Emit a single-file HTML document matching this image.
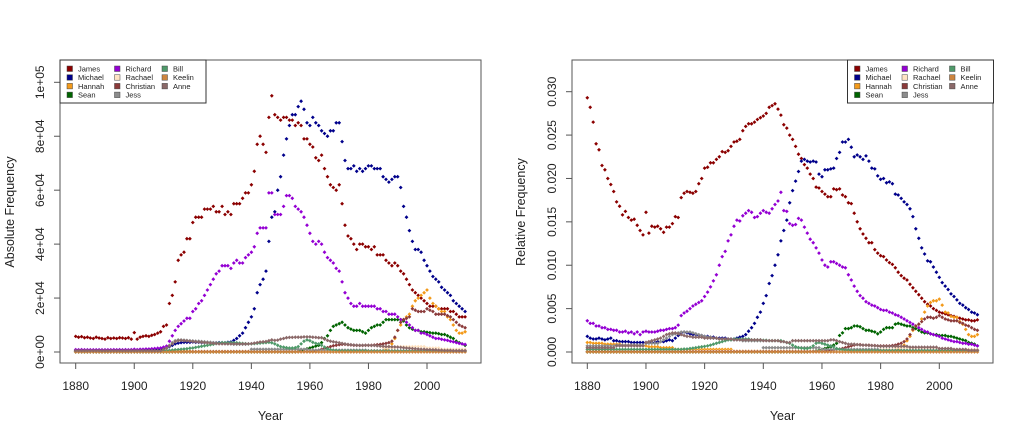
<!DOCTYPE html>
<html><head><meta charset="utf-8"><title>Name frequency charts</title>
<style>
html,body{margin:0;padding:0;background:#fff;}
svg{display:block;font-family:"Liberation Sans",Arial,sans-serif;}
</style></head>
<body>
<svg id="chart" width="1024" height="438" viewBox="0 0 1024 438" xmlns="http://www.w3.org/2000/svg"></svg>
<script>
function rep(v,n){var a=[];for(var i=0;i<n;i++)a.push(v);return a;}
var startYear = 1880, endYear = 2013;
var seriesNames = ["James","Michael","Hannah","Sean","Richard","Rachael","Christian","Jess","Bill","Keelin","Anne"];
var seriesColors = ["#8b0000","#00008b","#f39a1a","#006400","#9400d3","#ffe4c4","#8b3a3a","#8c8c8c","#4f9a6a","#cd853f","#8b6969"];
var absTickLabels = ["0e+00","2e+04","4e+04","6e+04","8e+04","1e+05"];
var absTickValues = [0,20,40,60,80,100];
var relTickLabels = ["0.000","0.005","0.010","0.015","0.020","0.025","0.030"];
var relTickValues = [0,5,10,15,20,25,30];
var xTickValues = [1880,1900,1920,1940,1960,1980,2000];

/* Absolute frequency, in thousands */
var absJames = [5.8,5.5,5.7,5.3,5.5,5.2,5.0,5.5,5.2,5.0, 4.8,5.3,5.0,5.2,5.0,5.3,5.2,5.0,5.3,4.8, 7.2,4.8,5.5,5.8,6.0,5.8,6.2,6.5,7.0,7.5, 9.5,10,18,21,26,34,36,37,42,42, 48,50,50,50,53,53,53,54,52,52, 54,51,52,51,55,55,55,57,59,59, 62,67,77,80,77,74,87,95,88,87, 86,87,87,86,86,84,85,84,79,79, 77,76,72,71,73,68,65,62,61,60, 62,55,47,43,42,40,38,40,40,39, 39,38,39,36,36,36,34,33,32,33, 32,30,29,27,25,23,22,21,20,19, 18,17,17,17,16,16,16,16,15,15, 14,13,13,13];
var absMichael = [0.6,0.5,0.6,0.5,0.6,0.5,0.5,0.6,0.6,0.5, 0.5,0.6,0.6,0.6,0.6,0.6,0.6,0.6,0.6,0.6, 0.7,0.6,0.7,0.7,0.7,0.8,0.8,0.9,1.0,1.0, 1.2,1.5,2.0,2.5,3.0,3.3,3.5,3.6,3.6,3.6, 3.7,3.6,3.6,3.5,3.5,3.5,3.5,3.4,3.4,3.5, 3.5,3.4,3.6,3.7,4.3,5.0,6.0,7.0,9.0,11, 13,16,22,25,27,30,41,50,52,60, 65,73,79,84,88,88,91,93,90,85, 84,87,85,84,82,81,80,82,82,85, 85,78,71,68,68,69,67,68,67,68, 69,69,68,68,68,65,64,63,64,65, 65,61,54,50,45,41,38,38,37,34, 32,30,28,27,26,24,23,22,21,19, 18,17,16,15];
var absHannah = [].concat(rep(0.3,40),rep(0.2,40),rep(0.1,26),[1,2,3,5,8,10,12,13,14,17,19,20,21,22,23,20,18,17,16,15,15,13,12,10,8,7,7,7.5]);
var absSean = [].concat(rep(0,76),[0.2,0.5,0.8,1.2,1.5,1.8,2.2,2.5,3.5,5, 6,8,9.5,10,10.5,11,10,9,8.5,8, 8,8,7.5,7,8,9,9.5,10,10,11, 12,12,12,12,12,12,11.5,10,9,8.5, 8,8,7.5,7.5,7.3,7.2,7,7,6.8,6.5, 6.5,6,5.5,5,4,3.5,3,2.5]);
var absRichard = [0.9,0.8,0.9,0.8,0.8,0.8,0.8,0.8,0.8,0.8, 0.8,0.8,0.8,0.9,0.8,0.9,0.8,0.9,0.8,0.9, 1.0,0.9,1.0,1.0,1.1,1.1,1.2,1.3,1.4,1.5, 1.8,2.2,4.0,6.0,8.0,9.5,10.5,11.5,12.5,12.5, 15,16,18,19,21,23,25,27,29,30, 32,32,32,31,33,34,33,33,35,36, 37,39,44,46,46,46,59,59,51,51, 51,54,58,58,57,54,53,52,50,47, 44,41,40,41,40,37,35,34,33,31, 30,26,22,20,18,17,17,18,17,17, 17,17,17,16,16,15,15,14,14,14, 13,12,12,11,10,9,8,8,7,7, 6.5,6,5.5,5,5,4.7,4.5,4.3,4,3.8, 3.5,3.2,3,2.8];
var absRachael = [].concat(rep(0.1,100),rep(0.5,5),rep(1.5,5),rep(2,10),rep(1.5,5),rep(1,9));
var absChristian = [].concat(rep(0.1,81),[0.3,0.5,0.7,1,1.3,1.6,2,2.3,2.5,2.7, 2.8,2.8,2.7,2.6,2.5,2.5,2.4,2.4,2.5,2.5, 2.5,2.6,2.7,2.8,3,3.2,3.5,4,5.5,8, 11,12,12.5,13,16,15.5,15,15,15,16, 15.5,15,14,14,14,14,13.5,13,12,11, 10,9.5,9]);
var absJess = [].concat(rep(0.3,30),[0.6,1.2,2.5,3.5,4.2,4.5,4.5,4.4,4.3,4.2, 4.1,4.0,4.0,3.9,3.8,3.7,3.6,3.5,3.4,3.3, 3.2,3.1,3.0,3.0,2.9,2.9,2.9,2.9,2.9,3.0],rep(1.0,20),rep(0.7,20),rep(0.5,34));
var absBill = [].concat(rep(0.3,30),[0.4,0.5,0.6,0.7,0.8,0.9,1.0,1.1,1.2,1.4, 1.5,1.7,1.9,2.1,2.3,2.5,2.7,2.9,3.1,3.3, 3.5,3.5,3.5,3.5,3.5,3.4,3.3,3.2,3.1,3.0, 3.0,3.1,3.2,3.3,3.4,3.5,3.6,3.4,3.0,2.5, 2.0,1.8,1.6,1.5,1.5,1.6,2.0,3.0,4.0,4.5, 4.2,3.6,3.2,3.0,2.5,1.8,1.2,0.9,0.7,0.6],rep(0.4,10),rep(0.3,34));
var absKeelin = rep(0,134);
var absAnne = [].concat(rep(0.5,30),[1.0,1.5,2.2,3.0,3.8,4.2,4.3,4.2,4.1,4.0, 3.9,3.8,3.7,3.6,3.5,3.4,3.3,3.2,3.1,3.0],rep(3.0,10),[3.1,3.3,3.5,3.7,3.8,3.9,4.2,4.5,4.3,4.4, 4.8,5.0,5.3,5.4,5.4,5.5,5.5,5.5,5.6,5.6, 5.6,5.5,5.4,5.3,5.3,4.8,4.3,4.0,3.8,3.6, 3.4,3.2,3.0,2.8,2.7,2.6,2.5,2.5,2.5,2.5, 2.5,2.4,2.4,2.3,2.2,2.1,2.0,2.0,1.9,1.9, 1.8,1.7,1.6,1.5,1.4,1.3,1.2,1.1,1.0,1.0, 0.9,0.9,0.8,0.8,0.7,0.7,0.6,0.6,0.6,0.5, 0.5,0.5,0.5,0.5]);

/* Relative frequency, in units of 0.001 */
var relJames = [29.3,28.2,26.5,24,23.3,21.5,21,20,19.3,18.5, 17.3,16.8,15.8,16.2,15.5,15.2,15.3,14.6,14.0,13.5, 16.1,13.7,14.5,14.4,14.5,14.2,13.8,14.4,14.4,14.8, 15.6,15.5,17.8,18.3,18.5,18.4,18.3,18.5,19.4,20, 21.2,21.3,21.8,21.8,22.2,22.5,23.1,23,23.2,23.7, 24.2,24.3,24.5,25.5,26,26.3,26.3,26.5,26.8,27, 27.2,27.5,28.2,28.4,28.6,28,27.3,26.2,25.8,25, 24.5,23.7,22.8,22.3,21.6,21.2,20.5,20,19,18.9, 18.5,18.2,17.9,17.9,18.8,18.7,18.8,18.1,17.9,17.2, 17.1,16,15,14.2,13.6,13.1,12.6,12.6,11.8,11.4, 11.1,11,10.6,10.3,10.1,9.7,9.2,8.8,8.5,8.3, 7.8,7.4,7,6.6,6.2,5.8,5.5,5.3,5,4.8, 4.6,4.5,4.4,4.3,4.2,4.1,4,3.9,3.8,3.7, 3.7,3.6,3.6,3.7];
var relMichael = [1.8,1.6,1.5,1.5,1.6,1.5,1.4,1.5,1.6,1.3, 1.3,1.2,1.2,1.2,1.2,1.1,1.1,1.1,1.1,1.1, 1.1,1.1,1.1,1.1,1.2,1.2,1.2,1.3,1.4,1.3, 1.6,1.9,2.2,2.3,2.2,2.1,2.0,2.0,1.9,1.9, 1.8,1.8,1.7,1.7,1.6,1.6,1.6,1.6,1.5,1.5, 1.5,1.6,1.7,1.8,2.0,2.4,2.8,3.3,4.0,4.6, 5.6,6.5,7.9,8.8,10,11.2,12.8,14,15.2,17.2, 18.6,19.7,20.8,22.0,22.2,22,21.9,22,21.9,20.5, 20.2,21,21,21.1,21.2,22.3,23,24.2,24.2,24.5, 23.6,22.5,22.7,22.5,22.2,22.6,22,21.2,21.1,20.3, 19.9,20,19.5,19.6,19.4,18.2,18.1,17.7,17.3,17, 16.5,15.6,14.2,13.1,12.0,11.3,10.5,10.4,9.8,9.2, 8.6,8.0,7.6,7.2,6.7,6.4,6.0,5.6,5.4,5.1, 4.9,4.6,4.5,4.3];
var relHannah = [].concat([1.1,1.1,1.0,1.0,1.0,1.0,0.9,0.9,0.9,0.9, 0.9,0.9,0.8,0.8,0.8,0.8,0.8,0.7,0.7,0.7, 0.7,0.6,0.6,0.6,0.6,0.5,0.5,0.5,0.5,0.5],rep(0.3,20),rep(0.1,56),[0.3,0.5,0.8,1.3,1.8,2.5,3.0,3.2,3.8,4.6, 5.3,5.7,5.9,5.9,6.1,5.4,4.6,4.5,4.1,4.0, 4.0,3.5,3.2,2.6,2.0,1.8,1.8,2.0]);
var relSean = [].concat(rep(0,76),[0.05,0.1,0.15,0.2,0.3,0.4,0.5,0.6,0.8,1.0, 1.9,2.2,2.7,2.7,2.8,3.0,3.0,2.9,2.7,2.5, 2.5,2.4,2.3,2.1,2.3,2.6,2.8,2.8,2.8,3.2, 3.3,3.2,3.1,3.0,3.0,2.8,2.7,2.5,2.3,2.2, 2.2,2.1,2.0,2.0,1.9,1.9,1.9,1.8,1.8,1.7, 1.6,1.5,1.4,1.3,1.1,1.0,0.9,0.7]);
var relRichard = [3.6,3.3,3.3,3.0,3.0,2.8,2.8,2.6,2.6,2.5, 2.5,2.3,2.3,2.4,2.2,2.3,2.1,2.3,2.0,2.3, 2.4,2.3,2.3,2.3,2.4,2.5,2.5,2.6,2.7,2.7, 2.8,3.1,4.2,4.5,4.7,5.0,5.3,5.5,5.7,5.9, 6.4,6.9,7.5,8.2,8.9,10.0,11.0,11.6,12.8,13.5, 14.5,15.2,15.1,15.7,16.0,16.3,16.1,15.5,15.6,16.0, 16.3,16.1,16.0,16.5,17,17.4,18.4,16.3,16.2,14.8, 14.6,14.7,15.4,15.2,14.4,13.7,13.0,12.6,12.0,11.4, 10.6,10.0,9.8,10.4,10.4,10.2,10.0,9.8,9.7,8.9, 8.3,7.6,7.0,6.5,6.2,5.8,5.6,5.4,5.3,5.1, 4.9,4.8,4.8,4.6,4.5,4.3,4.2,4.0,3.8,3.6, 3.4,3.2,3.0,2.8,2.6,2.4,2.3,2.1,2.0,1.9, 1.8,1.6,1.5,1.4,1.3,1.2,1.2,1.1,1.0,1.0, 0.9,0.9,0.8,0.7];
var relRachael = [].concat(rep(0.1,100),rep(0.3,5),rep(0.5,15),rep(0.4,5),rep(0.3,9));
var relChristian = [].concat(rep(0.05,81),[0.1,0.15,0.2,0.25,0.3,0.35,0.4,0.5,0.6,0.7, 0.8,0.85,0.85,0.8,0.8,0.8,0.75,0.75,0.7,0.7, 0.7,0.7,0.7,0.75,0.8,0.9,1.0,1.2,1.5,2.0, 2.6,3.0,3.2,3.5,3.8,4.0,4.0,3.9,4.0,4.2, 4.0,3.8,3.7,3.6,3.6,3.6,3.4,3.3,3.1,3.0, 2.8,2.6,2.5]);
var relJess = [].concat(rep(0.7,10),rep(0.8,10),rep(1.0,5),[1.2,1.4,1.6,1.8,2.0, 2.1,2.2,2.3,2.3,2.3,2.3,2.2,2.1,2.0,1.9, 1.8,1.7,1.7,1.6,1.6,1.5,1.5,1.5,1.4,1.4, 1.4,1.4,1.4,1.3,1.3,1.3,1.3,1.3,1.3,1.3],rep(0.5,20),rep(0.3,20),rep(0.2,34));
var relBill = [].concat(rep(0.3,30),[0.3,0.3,0.3,0.35,0.35,0.4,0.45,0.5,0.55,0.6, 0.65,0.7,0.8,0.9,1.0,1.1,1.2,1.3,1.4,1.4, 1.5,1.5,1.5,1.5,1.5,1.5,1.4,1.4,1.4,1.4, 1.35,1.35,1.3,1.3,1.3,1.3,1.3,1.2,1.1,1.0, 0.8,0.6,0.5,0.45,0.4,0.4,0.5,0.7,1.0,1.1, 1.0,0.9,0.8,0.7,0.6,0.4,0.3,0.25,0.2,0.2],rep(0.15,44));
var relKeelin = rep(0,134);
var relAnne = [].concat(rep(0.5,10),rep(0.7,10),[1.1,1.2,1.3,1.4,1.5,1.6,1.8,2.0,2.1,2.2, 2.2,2.1,2.0,1.9,1.8,1.8,1.7,1.7,1.7,1.7],rep(1.6,5),rep(1.5,5),rep(1.4,10),[1.3,1.3,1.3,1.3,1.3,1.3,1.2,1.2,1.1,1.1],rep(1.3,10),[1.3,1.3,1.3,1.4,1.4,1.3,1.2,1.1,1.0,0.9, 0.9,0.9,0.85,0.8,0.8,0.8,0.75,0.75,0.7,0.7],rep(0.65,10),rep(0.55,10),rep(0.4,5),rep(0.3,5),rep(0.2,4));

var absSeries = [absJames,absMichael,absHannah,absSean,absRichard,absRachael,absChristian,absJess,absBill,absKeelin,absAnne];
var relSeries = [relJames,relMichael,relHannah,relSean,relRichard,relRachael,relChristian,relJess,relBill,relKeelin,relAnne];
var legendOrder = ["James","Michael","Hannah","Sean","Richard","Rachael","Christian","Jess","Bill","Keelin","Anne"];

var NS="http://www.w3.org/2000/svg";
var svg=document.getElementById('chart');
function mk(tag,attrs,parent){var e=document.createElementNS(NS,tag);for(var k in attrs)e.setAttribute(k,attrs[k]);(parent||svg).appendChild(e);return e;}

function drawPanel(cfg){
  var g=mk('g',{});
  
  
  function xs(yr){return cfg.x0+(yr-1880)*(cfg.x2000-cfg.x0)/120;}
  function ys(v){return cfg.y0-(v)*(cfg.y0-cfg.yTop)/cfg.vTop;}
  var box=mk('rect',{x:cfg.bx1,y:60,width:cfg.bx2-cfg.bx1,height:303,fill:'none',stroke:'#555','stroke-width':1},g);
  
  
  xTickValues.forEach(function(t){
    var x=xs(t);
    var tk=mk('line',{x1:x,y1:363,x2:x,y2:369,stroke:'#555','stroke-width':1},g);
    
    
    var tx=mk('text',{x:x,y:390,'text-anchor':'middle','font-size':'12px',fill:'#222'},g);
    tx.textContent=t;
    
    
  });
  var xt=mk('text',{x:(cfg.bx1+cfg.bx2)/2,y:420,'text-anchor':'middle','font-size':'12.5px',fill:'#222'},g);
  xt.textContent='Year';
  
  
  cfg.tickVals.forEach(function(v,i){
    var y=ys(v);
    var tk=mk('line',{x1:cfg.bx1,y1:y,x2:cfg.bx1-6,y2:y,stroke:'#555','stroke-width':1},g);
    
    
    var tx=mk('text',{x:cfg.tickX,y:y,'text-anchor':'middle','font-size':'12px',fill:'#222',transform:'rotate(-90 '+cfg.tickX+' '+y+')'},g);
    tx.textContent=cfg.tickLabels[i];
    
    
  });
  var yt=mk('text',{x:cfg.titleX,y:212,'text-anchor':'middle','font-size':'12.5px',fill:'#222',transform:'rotate(-90 '+cfg.titleX+' 212)'},g);
  yt.textContent=cfg.title;
  
  
  cfg.series.forEach(function(arr,si){
    var sg=mk('g',{},g);
    
    
    var d='';
    arr.forEach(function(v,i){var x=xs(startYear+i),y=ys(v);d+='M'+x.toFixed(1)+' '+(y-1.9).toFixed(1)+'l1.9 1.9l-1.9 1.9l-1.9 -1.9z';});
    var mp=mk('path',{d:d,fill:seriesColors[si]},sg);
    
    
  });
  var lg=mk('g',{},g);
  
  
  var lr=mk('rect',{x:cfg.lx,y:60,width:146,height:43,fill:'#fff',stroke:'#333','stroke-width':1},lg);
  
  
  var colOff=[0,47.5,95];
  legendOrder.forEach(function(nm,k){
    var c=Math.floor(k/4), r=k%4;
    var si=seriesNames.indexOf(nm);
    var sx=cfg.lx+7+colOff[c], sy=66+r*8.7;
    var sq=mk('rect',{x:sx,y:sy,width:5.5,height:5.5,fill:seriesColors[si],stroke:'#444','stroke-width':0.5},lg);
    
    
    var lt=mk('text',{x:sx+11,y:sy+5.5,'font-size':'7.5px',fill:'#222'},lg);
    lt.textContent=nm;
    
    
  });
}
drawPanel({name:'absolute-frequency-panel',bx1:60,bx2:481,x0:75.7,x2000:427,y0:352,yTop:82.3,vTop:100,tickVals:absTickValues,tickLabels:absTickLabels,tickX:44,titleX:14,title:'Absolute Frequency',series:absSeries,lx:60});
drawPanel({name:'relative-frequency-panel',bx1:572,bx2:993,x0:587.3,x2000:939.3,y0:352,yTop:91.7,vTop:30,tickVals:relTickValues,tickLabels:relTickLabels,tickX:556,titleX:525,title:'Relative Frequency',series:relSeries,lx:847.5});
</script>
</body></html>
